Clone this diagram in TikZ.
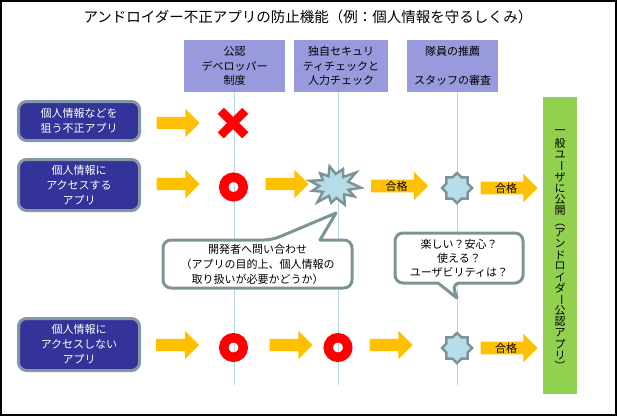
\documentclass[tikz,border=0pt]{standalone}
\usepackage{fontspec}
\setmainfont{Noto Sans CJK JP}
\usepackage{graphicx}
\usetikzlibrary{shapes.arrows,shapes.geometric,shapes.misc}
\definecolor{hdrfill}{RGB}{153,153,221}
\definecolor{appfill}{RGB}{51,51,153}
\definecolor{appedge}{RGB}{132,151,165}
\definecolor{arrowfill}{RGB}{255,192,0}
\definecolor{burstfill}{RGB}{183,222,232}
\definecolor{burstedge}{RGB}{125,148,150}
\definecolor{guideline}{RGB}{183,214,224}
\definecolor{pubfill}{RGB}{146,208,80}
\newcommand{\vrot}[1]{\rotatebox[origin=c]{-90}{#1}}
\tikzset{
  header/.style={fill=hdrfill, minimum height=52pt, inner sep=0pt, align=center, font=\fontsize{11}{14.5}\selectfont},
  appbox/.style={fill=appfill, draw=appedge, line width=3pt, rounded corners=8pt, minimum width=121pt, text=white, align=center, inner sep=0pt, font=\fontsize{11}{15}\selectfont},
  fatarrow/.style={single arrow, fill=arrowfill, single arrow head extend=8pt, minimum width=28pt, minimum height=43pt, inner xsep=0pt, inner ysep=6pt},
  passarrow/.style={fatarrow, minimum height=57pt, inner ysep=1pt, font=\fontsize{11}{11}\selectfont},
  ring/.style={circle, draw=red, line width=9.5pt, minimum size=19.5pt, inner sep=0pt},
  ngmark/.style={cross out, draw=red, line width=8.5pt, minimum size=16pt, inner sep=0pt},
  burst/.style={fill=burstfill, draw=burstedge, line width=2.5pt, line join=miter},
  badge/.style={star, star points=8, star point ratio=1.3, fill=burstfill, draw=burstedge, line width=2.5pt, minimum size=30pt, inner sep=0pt},
  bubble/.style={fill=white, draw=burstedge, line width=3pt, line join=round},
  bubbletext/.style={align=center, font=\fontsize{11}{15}\selectfont},
  guide/.style={draw=guideline, line width=1pt},
  pubbar/.style={fill=pubfill, minimum width=34pt, minimum height=297pt, inner sep=0pt},
  pubchar/.style={inner sep=0pt, font=\fontsize{11}{11}\selectfont},
}
\begin{document}
\begin{tikzpicture}[x=1pt, y=-1pt]
\useasboundingbox (0,0) rectangle (617,416);
\draw[line width=1.2pt] (1,1) rectangle (616,415);
\node[font=\fontsize{14.5}{16}\selectfont] (title) at (308,17) {アンドロイダー不正アプリの防止機能（例：個人情報を守るしくみ）};

% checkpoints and guide lines
\node[header, minimum width=101pt] (h1) at (234.5,66) {公認\\デベロッパー\\制度};
\node[header, minimum width=94pt] (h2) at (341,66) {独自セキュリ\\ティチェックと\\人力チェック};
\node[header, minimum width=91pt] (h3) at (452.5,66) {隊員の推薦\\\mbox{}\\スタッフの審査};
\coordinate (g1) at (234.5,385);
\coordinate (g2) at (338,385);
\coordinate (g3) at (457,385);
\draw[guide] (h1.south -| g1) -- (g1);
\draw[guide] (h2.south -| g2) -- (g2);
\draw[guide] (h3.south -| g3) -- (g3);

% apps
\node[appbox, minimum height=39pt] (appa) at (79,121) {個人情報などを\\狙う不正アプリ};
\node[appbox, minimum height=51pt] (appb) at (79,185) {個人情報に\\アクセスする\\アプリ};
\node[appbox, minimum height=52pt] (appc) at (79,344.5) {個人情報に\\アクセスしない\\アプリ};

% row a
\node[fatarrow] (a1) at (175,123) {};
\node[ngmark] (nga) at (233,123) {};

% row b
\node[fatarrow] (b1) at (175,184) {};
\node[ring] (rb) at (233.5,187) {};
\node[fatarrow] (b2) at (284,184) {};
\begin{scope}[shift={(335,186)}, xscale=1.3]
\draw[burst] (5:20) -- (20:11) -- (35:18) -- (50:11) -- (68:20) -- (85:12) -- (100:17) -- (115:11) -- (130:21) -- (148:11) -- (165:18) -- (180:12) -- (195:20) -- (212:11) -- (228:17) -- (243:11) -- (258:20) -- (273:12) -- (290:18) -- (305:11) -- (320:21) -- (337:11) -- cycle;
\end{scope}
\node[passarrow] (pb1) at (396.5,186) {合格};
\node[badge] (sb) at (457,188) {};
\node[passarrow] (pb2) at (506,188) {合格};

% row c
\node[fatarrow] (c1) at (174.5,345) {};
\node[ring] (rc1) at (233.5,347.5) {};
\node[fatarrow] (c2) at (288,345) {};
\node[ring] (rc2) at (338,347.5) {};
\node[fatarrow] (c3) at (388,345) {};
\node[badge] (sc) at (457,348) {};
\node[passarrow] (pc) at (506,348) {合格};

% remarks
\draw[bubble] (163,264) [rounded corners=8pt] -- (163,240) -- (272,240) [sharp corners] -- (336,213) -- (320,240) [rounded corners=8pt] -- (352,240) -- (352,288) -- (163,288) -- cycle;
\node[bubbletext] (q1) at (257.5,264) {開発者へ問い合わせ\\（アプリの目的上、個人情報の\\取り扱いが必要かどうか）};
\draw[bubble] (395,258) [rounded corners=8pt] -- (395,233) -- (523,233) -- (523,283) -- (452,283) [sharp corners] -- (457,298) -- (438,283) [rounded corners=8pt] -- (395,283) -- cycle;
\node[bubbletext, font=\fontsize{11}{14}\selectfont] (q2) at (459,258) {楽しい？安心？\\使える？\\ユーザビリティは？};

% publication
\node[pubbar] (pub) at (560,245.5) {};
\foreach \ch [count=\i] in {一,般,ユ,\vrot{ー},ザ,に,公,開,\vrot{（},ア,ン,ド,ロ,イ,ダ,\vrot{ー},公,認,ア,プ,リ,\vrot{）}}
  \node[pubchar] (v\i) at (560,121.4+11.14*\i) {\ch};
\end{tikzpicture}
\end{document}
